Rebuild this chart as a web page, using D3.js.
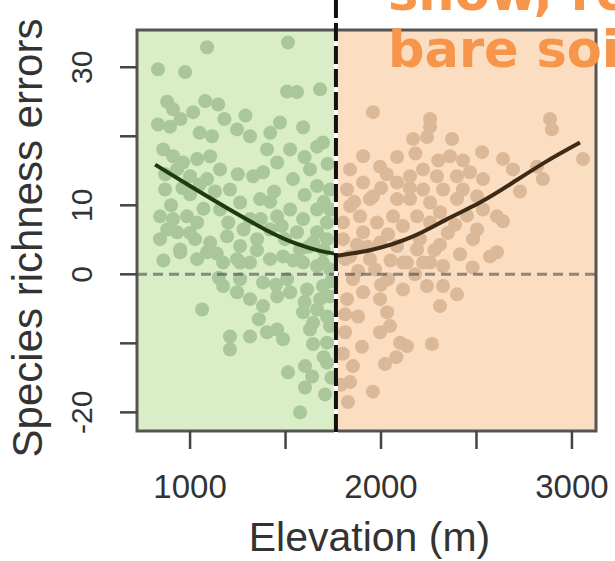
<!DOCTYPE html>
<html>
<head>
<meta charset="utf-8">
<script src="https://cdn.jsdelivr.net/npm/d3@7/dist/d3.min.js"></script>
<style>
	body { margin: 0; background: #fff; }
	svg { display: block; }
</style>
</head>
<body>
<svg id="chart" width="615" height="561"></svg>
<script>
// elevation (m), species richness error
let forestPoints = [
	[1089,32.9],[1513,33.6],[832,29.7],[974,29.3],[1508,26.5],[1560,26.4],[1681,26.8],[1079,25.1],
	[1147,24.6],[911,23.9],[832,21.7],[895,21.4],[1016,23.5],[1471,22.0],[1592,21.3],[1115,20.0],
	[1246,21.0],[1314,20.0],[1403,18.1],[1456,16.2],[1665,18.5],[1696,19.1],[859,18.1],[911,17.1],
	[963,16.2],[1037,16.7],[1105,17.1],[1157,15.2],[1089,13.8],[1000,14.2],[932,15.2],[1330,14.2],
	[1382,14.8],[1539,13.8],[1665,12.8],[1733,12.3],[1262,10.4],[1367,10.9],[843,8.4],[911,8.0],
	[984,8.4],[1037,7.5],[932,6.1],[880,6.5],[1456,8.4],[1524,9.4],[1592,8.0],[1665,9.4],
	[1717,7.5],[1665,6.1],[1560,6.1],[1105,4.6],[1194,5.5],[1262,4.1],[1351,5.1],[1419,6.5],
	[948,3.2],[1037,2.2],[1089,3.2],[1173,1.7],[1246,2.2],[1314,1.7],[1419,2.2],[1487,2.6],
	[1592,1.7],[1696,1.7],[1644,4.6],[1717,5.1],[948,3.6],[1262,1.7],[1665,1.2],[1173,-1.7],
	[1246,-2.6],[1314,-3.6],[1382,-4.6],[1456,-3.2],[1524,-2.6],[1613,-2.2],[1696,-1.7],[1733,-3.2],
	[1262,-0.7],[1382,-1.2],[1508,-0.7],[1063,-5.1],[1592,-5.5],[1665,-5.1],[1717,-6.1],[1644,-7.0],
	[1733,-7.5],[1209,-9.0],[1314,-9.0],[1403,-8.4],[1456,-8.0],[1487,-9.4],[1209,-10.9],[1644,-10.1],
	[1717,-9.9],[1513,-14.2],[1602,-13.3],[1639,-14.8],[1602,-16.4],[1717,-12.8],[1576,-20.0],[1576,3.6],
	[1497,5.1],[1733,0.7],[1681,-3.6],[1000,11.6],[1209,12.3],[869,12.3],[1314,8.0],[1157,9.4],
	[1733,9.4],[1628,15.2],[1524,18.1],[843,5.1],[1026,5.1],[1733,-6.5],[1628,-8.0],[1707,-17.4],
	[880,25.0],[950,22.5],[1050,20.5],[1180,22.5],[1290,23.0],[1420,20.5],[1600,17.0],[1720,16.0],
	[870,14.5],[960,12.5],[1050,13.0],[1130,12.0],[1250,14.5],[1440,12.0],[1600,11.5],[1700,10.5],
	[900,10.0],[1070,9.5],[1200,7.5],[1370,8.0],[1480,7.0],[1620,4.0],[1000,6.0],[1140,3.0],
	[1350,3.5],[1540,2.0],[1700,3.5],[1450,-1.5],[1600,-4.0],[1700,-12.0],[1360,-6.5],[1150,-0.5],
	[1740,-15.0],[1740,-1.0],[860,2.0],[1420,10.5],[1280,6.5]
];

let bareSoilPoints = [
	[1958,23.5],[2257,22.5],[2257,21.4],[2168,19.6],[2241,19.9],[2372,19.6],[2361,17.1],[2084,17.0],
	[1906,17.1],[1995,15.6],[2529,17.7],[2639,16.7],[2691,15.2],[2885,22.5],[2895,21.0],[3058,16.7],
	[2817,15.6],[2848,13.8],[1838,15.2],[1822,12.3],[1906,13.3],[1958,11.3],[1838,9.9],[1890,8.4],
	[1801,7.5],[1801,5.1],[1906,6.1],[1979,7.5],[1995,4.6],[2084,13.3],[2152,14.2],[2220,15.2],
	[2293,14.2],[2220,12.3],[2152,10.9],[2257,10.4],[2325,12.3],[2398,14.2],[2466,14.8],[2534,13.8],
	[2429,12.3],[2503,11.3],[2398,10.9],[2084,10.9],[2063,8.4],[2115,7.0],[2189,8.4],[2257,7.5],
	[2309,9.0],[2607,8.4],[2639,7.7],[2503,6.5],[2482,5.1],[2534,9.4],[2571,2.6],[2607,3.2],
	[2084,4.1],[2189,3.6],[2257,1.7],[2325,1.2],[2136,1.7],[1838,2.6],[1942,2.2],[2220,1.7],
	[2115,1.7],[1906,-2.6],[2115,-2.2],[2241,-1.7],[2325,-1.7],[2398,-2.9],[2309,-4.6],[1822,-3.6],
	[1995,-3.6],[2032,-5.5],[2047,-7.5],[1880,-6.1],[1812,-8.4],[2100,-9.9],[2136,-10.4],[2267,-10.1],
	[1995,-8.4],[1853,-13.3],[2021,-13.0],[1838,-15.6],[1827,-18.5],[1958,-17.0],[1812,2.2],[1874,4.3],
	[2037,5.8],[2388,7.2],[2414,2.9],[1853,-0.7],[2037,-0.7],[2178,0.0],[1942,10.9],[2204,5.1],
	[1969,0.7],[2309,4.3],[2728,12.0],[1812,-5.8],
	[2030,14.5],[2180,17.5],[2300,16.5],[2430,16.5],[2450,8.5],[2350,6.0],[2150,12.5],[2000,12.5],
	[1860,10.5],[1930,4.0],[2050,2.0],[2280,3.5],[2480,1.0],[1900,-10.5],[2080,-12.0],[1800,-11.5],
	[1880,0.5],[2000,-1.5],[1790,-16.0]
];

// fitted trend lines
let forestCurve = [[817,15.9],[1000,12.8],[1200,9.5],[1400,6.4],[1560,4.4],[1680,3.4],[1760,3.0]];
let bareSoilCurve = [[1770,2.7],[1958,3.6],[2168,5.5],[2346,8.0],[2518,10.4],[2691,13.3],[2869,16.4],[3042,19.1]];

let threshold = 1764;
let xTicks = [1000, 1500, 2000, 2500, 3000];
let xTickLabels = [1000, 2000, 3000];
let yTicks = [-20, -10, 0, 10, 20, 30];
let yTickLabels = [-20, 0, 10, 30];
let areaLabel = ["snow, rock,", "bare soil"];

let plotLeft = 137, plotRight = 596, plotTop = 30, plotBottom = 431;
let font = "'Liberation Sans', Arial, sans-serif";

let x = d3.scaleLinear().domain([722, 3126]).range([plotLeft, plotRight]);
let y = d3.scaleLinear().domain([-22.7, 35.4]).range([plotBottom, plotTop]);

let svg = d3.select("#chart");

// habitat backgrounds
svg.append("rect")
	.attr("x", x(722))
	.attr("y", plotTop)
	.attr("width", x(threshold) - x(722))
	.attr("height", plotBottom - plotTop)
	.attr("fill", "#d9edc7");

svg.append("rect")
	.attr("x", x(threshold))
	.attr("y", plotTop)
	.attr("width", x(3126) - x(threshold))
	.attr("height", plotBottom - plotTop)
	.attr("fill", "#fbddc2");

// points
svg.append("g")
	.selectAll("circle")
	.data(forestPoints)
	.enter().append("circle")
	.attr("cx", function(d) { return x(d[0]); })
	.attr("cy", function(d) { return y(d[1]); })
	.attr("r", 7)
	.attr("fill", "#aac69b");

svg.append("g")
	.selectAll("circle")
	.data(bareSoilPoints)
	.enter().append("circle")
	.attr("cx", function(d) { return x(d[0]); })
	.attr("cy", function(d) { return y(d[1]); })
	.attr("r", 7)
	.attr("fill", "#dab898");

// zero line
svg.append("line")
	.attr("x1", plotLeft)
	.attr("x2", plotRight)
	.attr("y1", y(0))
	.attr("y2", y(0))
	.attr("stroke", "#4a4a4a")
	.attr("stroke-opacity", 0.6)
	.attr("stroke-width", 3)
	.attr("stroke-dasharray", "10,6");

// trend curves
let line = d3.line()
	.x(function(d) { return x(d[0]); })
	.y(function(d) { return y(d[1]); })
	.curve(d3.curveNatural);

svg.append("path")
	.attr("d", line(forestCurve))
	.attr("fill", "none")
	.attr("stroke", "#1e3a12")
	.attr("stroke-width", 4);

svg.append("path")
	.attr("d", line(bareSoilCurve))
	.attr("fill", "none")
	.attr("stroke", "#3d2a17")
	.attr("stroke-width", 4);

// frame
svg.append("rect")
	.attr("x", plotLeft)
	.attr("y", plotTop)
	.attr("width", plotRight - plotLeft)
	.attr("height", plotBottom - plotTop)
	.attr("fill", "none")
	.attr("stroke", "#555")
	.attr("stroke-width", 3);

// treeline threshold
svg.append("line")
	.attr("x1", x(threshold))
	.attr("x2", x(threshold))
	.attr("y1", 0)
	.attr("y2", plotBottom + 2)
	.attr("stroke", "#fff")
	.attr("stroke-width", 4);

svg.append("line")
	.attr("x1", x(threshold))
	.attr("x2", x(threshold))
	.attr("y1", 0)
	.attr("y2", plotBottom + 2)
	.attr("stroke", "#111")
	.attr("stroke-width", 4)
	.attr("stroke-dasharray", "18,5");

// x axis
svg.append("g")
	.selectAll("line")
	.data(xTicks)
	.enter().append("line")
	.attr("x1", function(d) { return x(d); })
	.attr("x2", function(d) { return x(d); })
	.attr("y1", plotBottom)
	.attr("y2", plotBottom + 18)
	.attr("stroke", "#444")
	.attr("stroke-width", 2.5);

svg.append("g")
	.selectAll("text")
	.data(xTickLabels)
	.enter().append("text")
	.attr("x", function(d) { return x(d); })
	.attr("y", 498)
	.attr("fill", "#333")
	.style("font", "33px " + font)
	.style("text-anchor", "middle")
	.text(function(d) { return d; });

// y axis
svg.append("g")
	.selectAll("line")
	.data(yTicks)
	.enter().append("line")
	.attr("x1", plotLeft - 17)
	.attr("x2", plotLeft)
	.attr("y1", function(d) { return y(d); })
	.attr("y2", function(d) { return y(d); })
	.attr("stroke", "#444")
	.attr("stroke-width", 2.5);

svg.append("g")
	.selectAll("text")
	.data(yTickLabels)
	.enter().append("text")
	.attr("transform", function(d) { return "translate(92," + y(d) + ") rotate(-90)"; })
	.attr("fill", "#333")
	.style("font", "30px " + font)
	.style("text-anchor", "middle")
	.text(function(d) { return d; });

// axis titles
svg.append("text")
	.attr("x", (plotLeft + plotRight)/2 + 3)
	.attr("y", 551)
	.attr("fill", "#333")
	.style("font", "41px " + font)
	.style("text-anchor", "middle")
	.text("Elevation (m)");

svg.append("text")
	.attr("transform", "translate(42,238) rotate(-90)")
	.attr("fill", "#333")
	.style("font", "42px " + font)
	.style("text-anchor", "middle")
	.text("Species richness errors");

// habitat label
svg.append("g")
	.selectAll("text")
	.data(areaLabel)
	.enter().append("text")
	.attr("x", 388)
	.attr("y", function(d, i) { return 10 + i*57; })
	.attr("fill", "#f7964a")
	.style("font", "bold 51px 'DejaVu Sans', sans-serif")
	.text(function(d) { return d; });
</script>
</body>
</html>
